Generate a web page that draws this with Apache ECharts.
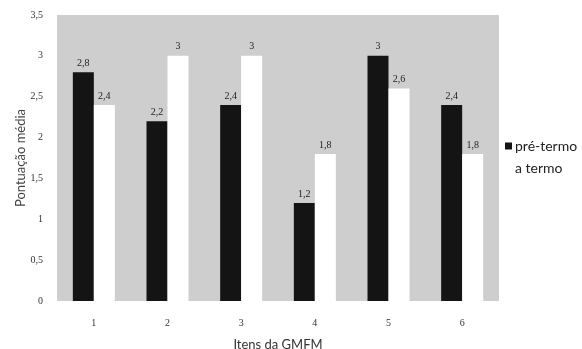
<!DOCTYPE html>
<html>
<head>
<meta charset="utf-8">
<script src="https://cdn.jsdelivr.net/npm/echarts@6/dist/echarts.min.js"></script>
<style>
  html, body { margin: 0; padding: 0; background: #ffffff; }
  #chart { width: 582px; height: 349px; }
</style>
</head>
<body>
<div id="chart"></div>
<script>
// GMFM items and mean scores per group
const itens = ['1', '2', '3', '4', '5', '6'];
const preTermo = [2.8, 2.2, 2.4, 1.2, 3, 2.4];
const aTermo = [2.4, 3, 3, 1.8, 2.6, 1.8];
const yTicks = [0, 0.5, 1, 1.5, 2, 2.5, 3, 3.5];

const fmt = v => String(v).replace('.', ',');
const NUM_FONT = 'Liberation Serif';
const TXT_FONT = 'Lato';

const chart = echarts.init(document.getElementById('chart'));

const labelStyle = {
  show: true,
  position: 'top',
  distance: 4,
  fontFamily: NUM_FONT,
  fontSize: 10,
  color: '#222',
  formatter: p => fmt(p.value)
};

chart.setOption({
  animation: false,
  textStyle: { fontFamily: TXT_FONT },
  legend: {
    orient: 'vertical',
    left: 505,
    top: 139,
    padding: 0,
    icon: 'rect',
    itemWidth: 7,
    itemHeight: 7,
    itemGap: 8,
    textStyle: { fontFamily: TXT_FONT, fontSize: 14, color: '#222', padding: [0, 0, 0, -2] },
    data: ['pré-termo', 'a termo']
  },
  grid: {
    left: 57, right: 83, top: 15, bottom: 48,
    outerBoundsMode: 'none',
    show: true, backgroundColor: '#cecece', borderWidth: 0
  },
  xAxis: {
    type: 'category',
    data: itens,
    name: 'Itens da GMFM',
    nameLocation: 'middle',
    nameGap: 37,
    nameMoveOverlap: false,
    nameTextStyle: { fontFamily: TXT_FONT, fontSize: 13, color: '#333' },
    axisLine: { show: false },
    axisTick: { show: false },
    axisLabel: { fontFamily: NUM_FONT, fontSize: 10, color: '#333', margin: 17 }
  },
  yAxis: {
    type: 'value',
    min: 0,
    max: 3.5,
    interval: 0.5,
    name: 'Pontuação média',
    nameLocation: 'middle',
    nameGap: 30,
    nameMoveOverlap: false,
    nameTextStyle: { fontFamily: TXT_FONT, fontSize: 13, color: '#444' },
    splitLine: { show: false },
    axisLine: { show: false },
    axisTick: { show: false },
    axisLabel: {
      fontFamily: NUM_FONT, fontSize: 10, color: '#333', margin: 14,
      formatter: v => yTicks.includes(v) ? fmt(v) : ''
    }
  },
  series: [
    {
      name: 'pré-termo',
      type: 'bar',
      data: preTermo,
      barWidth: 21,
      barGap: '0%',
      itemStyle: { color: '#141414' },
      label: labelStyle
    },
    {
      name: 'a termo',
      type: 'bar',
      data: aTermo,
      barWidth: 21,
      itemStyle: { color: '#ffffff' },
      label: labelStyle
    }
  ]
});
</script>
</body>
</html>
